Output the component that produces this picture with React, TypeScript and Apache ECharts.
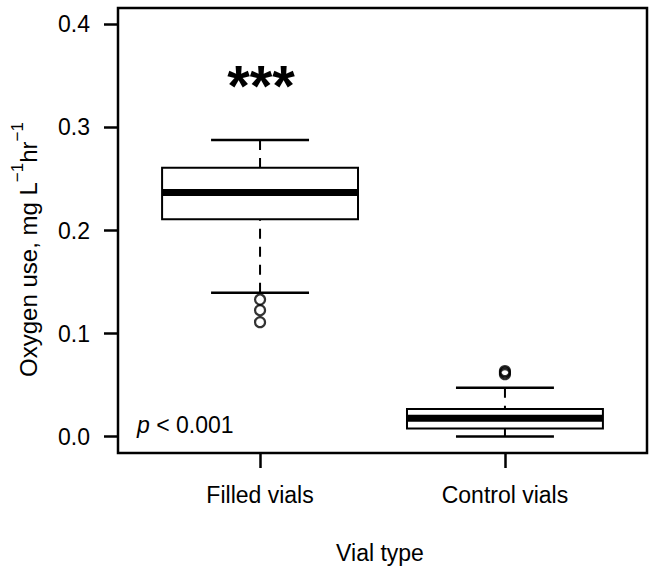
import React, { useEffect, useRef } from 'react';
import * as echarts from 'echarts';

const categories = ['Filled vials', 'Control vials'];
const categoryPositions = [1, 2];
const lowerWhisker = [0.1395, 0.0];
const lowerQuartile = [0.211, 0.0078];
const medians = [0.2368, 0.0178];
const upperQuartile = [0.261, 0.0268];
const upperWhisker = [0.2878, 0.0473];
const filledOutliers = [0.133, 0.1226, 0.111];
const controlOutliers = [0.0605, 0.0622, 0.0635];
const yTicks = [0, 0.1, 0.2, 0.3, 0.4];

const FONT = '"Liberation Sans", Arial, Helvetica, sans-serif';
const BOX_WIDTH = 0.8;

export default function App() {
  const ref = useRef<HTMLDivElement>(null);
  useEffect(() => {
    document.body.style.margin = '0';
    if (!ref.current) return;
    const chart = echarts.init(ref.current, undefined, { renderer: 'svg' });
    const boxData = categoryPositions.map((x, i) => [
      x,
      lowerWhisker[i],
      lowerQuartile[i],
      medians[i],
      upperQuartile[i],
      upperWhisker[i],
    ]);
    const outlierData = [
      ...filledOutliers.map((v) => [categoryPositions[0], v]),
      ...controlOutliers.map((v) => [categoryPositions[1], v]),
    ];
    chart.setOption({
      animation: false,
      backgroundColor: '#fff',
      textStyle: { fontFamily: FONT },
      grid: {
        left: 118,
        right: 3,
        top: 8,
        bottom: 113,
        show: true,
        borderColor: '#000',
        borderWidth: 2.5,
        backgroundColor: 'transparent',
      },
      xAxis: {
        type: 'value',
        min: 0.42,
        max: 2.58,
        splitLine: { show: false },
        axisLine: { show: false, onZero: false },
        axisTick: {
          show: true,
          inside: false,
          length: 15,
          lineStyle: { color: '#000', width: 2.5 },
          customValues: categoryPositions,
        },
        axisLabel: {
          customValues: categoryPositions,
          formatter: (v: number) => categories[Math.round(v) - 1] ?? '',
          color: '#000',
          fontSize: 23,
          fontFamily: FONT,
          margin: 42,
          verticalAlign: 'middle',
        },
      },
      yAxis: {
        type: 'value',
        min: -0.016,
        max: 0.416,
        splitLine: { show: false },
        axisLine: { show: false, onZero: false },
        axisTick: {
          show: true,
          inside: false,
          length: 14,
          lineStyle: { color: '#000', width: 2.5 },
          customValues: yTicks,
        },
        axisLabel: {
          customValues: yTicks,
          formatter: (v: number) => v.toFixed(1),
          color: '#000',
          fontSize: 23,
          fontFamily: FONT,
          margin: 28,
        },
      },
      series: [
        {
          type: 'custom',
          data: boxData,
          encode: { x: 0, y: [1, 2, 3, 4, 5] },
          renderItem: (params: any, api: any) => {
            const x = api.value(0);
            const lo = api.coord([x, api.value(1)]);
            const q1 = api.coord([x, api.value(2)]);
            const med = api.coord([x, api.value(3)]);
            const q3 = api.coord([x, api.value(4)]);
            const hi = api.coord([x, api.value(5)]);
            const half = api.size([BOX_WIDTH, 0])[0] / 2;
            const cap = half / 2;
            const cx = med[0];
            const whiskerStyle = { stroke: '#000', lineWidth: 2, lineDash: [10, 8], fill: null };
            const solid = { stroke: '#000', lineWidth: 2.5, fill: null };
            return {
              type: 'group',
              children: [
                { type: 'line', shape: { x1: cx, y1: hi[1], x2: cx, y2: q3[1] }, style: whiskerStyle },
                { type: 'line', shape: { x1: cx, y1: lo[1], x2: cx, y2: q1[1] }, style: whiskerStyle },
                { type: 'line', shape: { x1: cx - cap, y1: hi[1], x2: cx + cap, y2: hi[1] }, style: solid },
                { type: 'line', shape: { x1: cx - cap, y1: lo[1], x2: cx + cap, y2: lo[1] }, style: solid },
                {
                  type: 'rect',
                  shape: { x: cx - half, y: q3[1], width: half * 2, height: q1[1] - q3[1] },
                  style: { fill: '#fff', stroke: '#000', lineWidth: 2 },
                },
                {
                  type: 'line',
                  shape: { x1: cx - half, y1: med[1], x2: cx + half, y2: med[1] },
                  style: { stroke: '#000', lineWidth: 7, lineCap: 'butt' },
                },
              ],
            };
          },
        },
        {
          type: 'scatter',
          data: outlierData,
          symbol: 'circle',
          symbolSize: 10,
          itemStyle: { color: 'rgba(0,0,0,0)', borderColor: '#000', borderWidth: 2.2 },
          z: 5,
        },
      ],
      graphic: [
        {
          type: 'text',
          x: 261,
          y: 85,
          style: {
            text: '***',
            fontSize: 58,
            fontWeight: 'bold',
            fontFamily: FONT,
            fill: '#000',
            align: 'center',
            verticalAlign: 'middle',
          },
        },
        {
          type: 'text',
          x: 137,
          y: 425,
          style: {
            text: '{i|p}{n| < 0.001}',
            fontSize: 23,
            fontFamily: FONT,
            fill: '#000',
            align: 'left',
            verticalAlign: 'middle',
            rich: {
              i: { fontSize: 23, fontStyle: 'italic', fontFamily: FONT, fill: '#000' },
              n: { fontSize: 23, fontFamily: FONT, fill: '#000' },
            },
          },
        },
        {
          type: 'text',
          x: 380,
          y: 553,
          style: {
            text: 'Vial type',
            fontSize: 23,
            fontFamily: FONT,
            fill: '#000',
            align: 'center',
            verticalAlign: 'middle',
          },
        },
        {
          type: 'text',
          x: 24.5,
          y: 249.5,
          rotation: Math.PI / 2,
          style: {
            text: '{m|Oxygen use, mg L}{s|\u22121}{m|hr}{s|\u22121}',
            fontSize: 24,
            fontFamily: FONT,
            fill: '#000',
            align: 'center',
            verticalAlign: 'middle',
            rich: {
              m: {
                fontSize: 24,
                fontFamily: FONT,
                fill: '#000',
                verticalAlign: 'bottom',
                padding: [7, 0, 0, 0],
              },
              s: { fontSize: 17, fontFamily: FONT, fill: '#000', verticalAlign: 'top' },
            },
          },
        },
      ],
    });
    return () => chart.dispose();
  }, []);
  return <div ref={ref} style={{ width: 650, height: 566 }} />;
}
